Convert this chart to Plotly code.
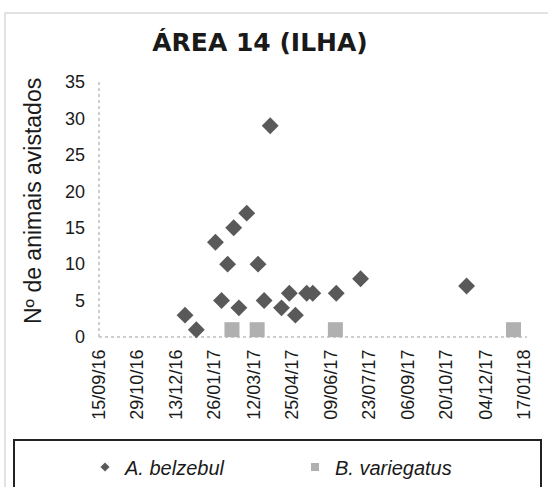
import plotly.graph_objects as go

# ---- data ----
belzebul_dates = ["2016-12-23", "2017-01-05", "2017-01-27", "2017-02-03", "2017-02-10",
                  "2017-02-17", "2017-02-23", "2017-03-04", "2017-03-17", "2017-03-24",
                  "2017-03-31", "2017-04-13", "2017-04-22", "2017-04-29", "2017-05-12",
                  "2017-05-19", "2017-06-15", "2017-07-13", "2017-11-12"]
belzebul_counts = [3, 1, 13, 5, 10, 15, 4, 17, 10, 5, 29, 4, 6, 3, 6, 6, 6, 8, 7]

variegatus_dates = ["2017-02-15", "2017-03-16", "2017-06-14", "2018-01-05"]
variegatus_counts = [1, 1, 1, 1]

tick_dates = ["2016-09-15", "2016-10-29", "2016-12-13", "2017-01-26", "2017-03-12",
              "2017-04-25", "2017-06-09", "2017-07-23", "2017-09-06", "2017-10-20",
              "2017-12-04", "2018-01-17"]
tick_labels = ["15/09/16", "29/10/16", "13/12/16", "26/01/17", "12/03/17", "25/04/17",
               "09/06/17", "23/07/17", "06/09/17", "20/10/17", "04/12/17", "17/01/18"]
y_ticks = [0, 5, 10, 15, 20, 25, 30, 35]

title_text = "ÁREA 14 (ILHA)"
y_title = "Nº de animais avistados"
names = ["A. belzebul", "B. variegatus"]

DARK = "#595959"
LIGHT = "#b0b0b0"
FONT = "Liberation Sans, Arial, sans-serif"

W, H = 548, 487
L, R, T, B = 99, 21, 82, 150
PW, PH = W - L - R, H - T - B


def px_x(p):
    return (p - L) / PW


def px_y(p):
    return (H - B - p) / PH


fig = go.Figure()

# data traces
fig.add_trace(go.Scatter(x=belzebul_dates, y=belzebul_counts, mode="markers",
                         marker=dict(symbol="diamond", size=13, color=DARK),
                         showlegend=False, cliponaxis=False))
fig.add_trace(go.Scatter(x=variegatus_dates, y=variegatus_counts, mode="markers",
                         marker=dict(symbol="square", size=15, color=LIGHT),
                         showlegend=False, cliponaxis=False))
# legend entries (small symbols)
fig.add_trace(go.Scatter(x=[None], y=[None], mode="markers", name=names[0],
                         marker=dict(symbol="diamond", size=7, color=DARK)))
fig.add_trace(go.Scatter(x=[None], y=[None], mode="markers", name=names[1],
                         marker=dict(symbol="square", size=8, color=LIGHT)))

fig.update_layout(
    width=W, height=H,
    margin=dict(l=L, r=R, t=T, b=B),
    paper_bgcolor="white", plot_bgcolor="white",
    font=dict(family=FONT, size=18, color="#1a1a1a"),
    title=dict(text="<b>" + title_text + "</b>", xref="container", yref="container",
               x=260 / W, y=1 - 42 / H, xanchor="center", yanchor="middle",
               font=dict(family="DejaVu Sans", size=25, color="#1a1a1a")),
    xaxis=dict(type="date", range=["2016-09-15", "2018-01-20 12:00"],
               tickmode="array", tickvals=tick_dates, ticktext=tick_labels,
               tickangle=-90, showgrid=False, zeroline=False, showline=False,
               ticks="", ticklabelstandoff=8,
               tickfont=dict(family=FONT, size=18, color="#1a1a1a")),
    yaxis=dict(range=[0, 35], tickmode="array", tickvals=y_ticks,
               showgrid=False, zeroline=False, showline=False, ticks="",
               ticklabelstandoff=13,
               tickfont=dict(family=FONT, size=18, color="#1a1a1a")),
    showlegend=True,
    legend=dict(orientation="h", xref="container", yref="container",
                x=85 / W, y=1 - 467 / H, xanchor="left", yanchor="middle",
                entrywidth=165, entrywidthmode="pixels",
                bgcolor="rgba(0,0,0,0)", borderwidth=0,
                font=dict(family=FONT, size=20, color="#1a1a1a", style="italic")),
    annotations=[dict(text=y_title, xref="paper", yref="paper",
                      x=px_x(33), y=px_y(201), textangle=-90, showarrow=False,
                      xanchor="center", yanchor="middle",
                      font=dict(family=FONT, size=23, color="#1a1a1a"))],
    shapes=[
        # outer chart border
        dict(type="rect", xref="paper", yref="paper", x0=px_x(5), x1=px_x(565),
             y0=px_y(505), y1=px_y(13), line=dict(color="#d9d9d9", width=1.5), layer="below"),
        # legend box
        dict(type="rect", xref="paper", yref="paper", x0=px_x(14), x1=px_x(541),
             y0=px_y(505), y1=px_y(440), line=dict(color="#222222", width=2), layer="below"),
        # dotted axis lines
        dict(type="line", xref="x domain", yref="y domain", x0=0, x1=0, y0=0, y1=1,
             line=dict(color="#bfbfbf", width=1.5, dash="dot"), layer="below"),
        dict(type="line", xref="x domain", yref="y domain", x0=0, x1=1, y0=0, y1=0,
             line=dict(color="#bfbfbf", width=1.5, dash="dot"), layer="below"),
    ],
)

fig.write_html("out.html")
